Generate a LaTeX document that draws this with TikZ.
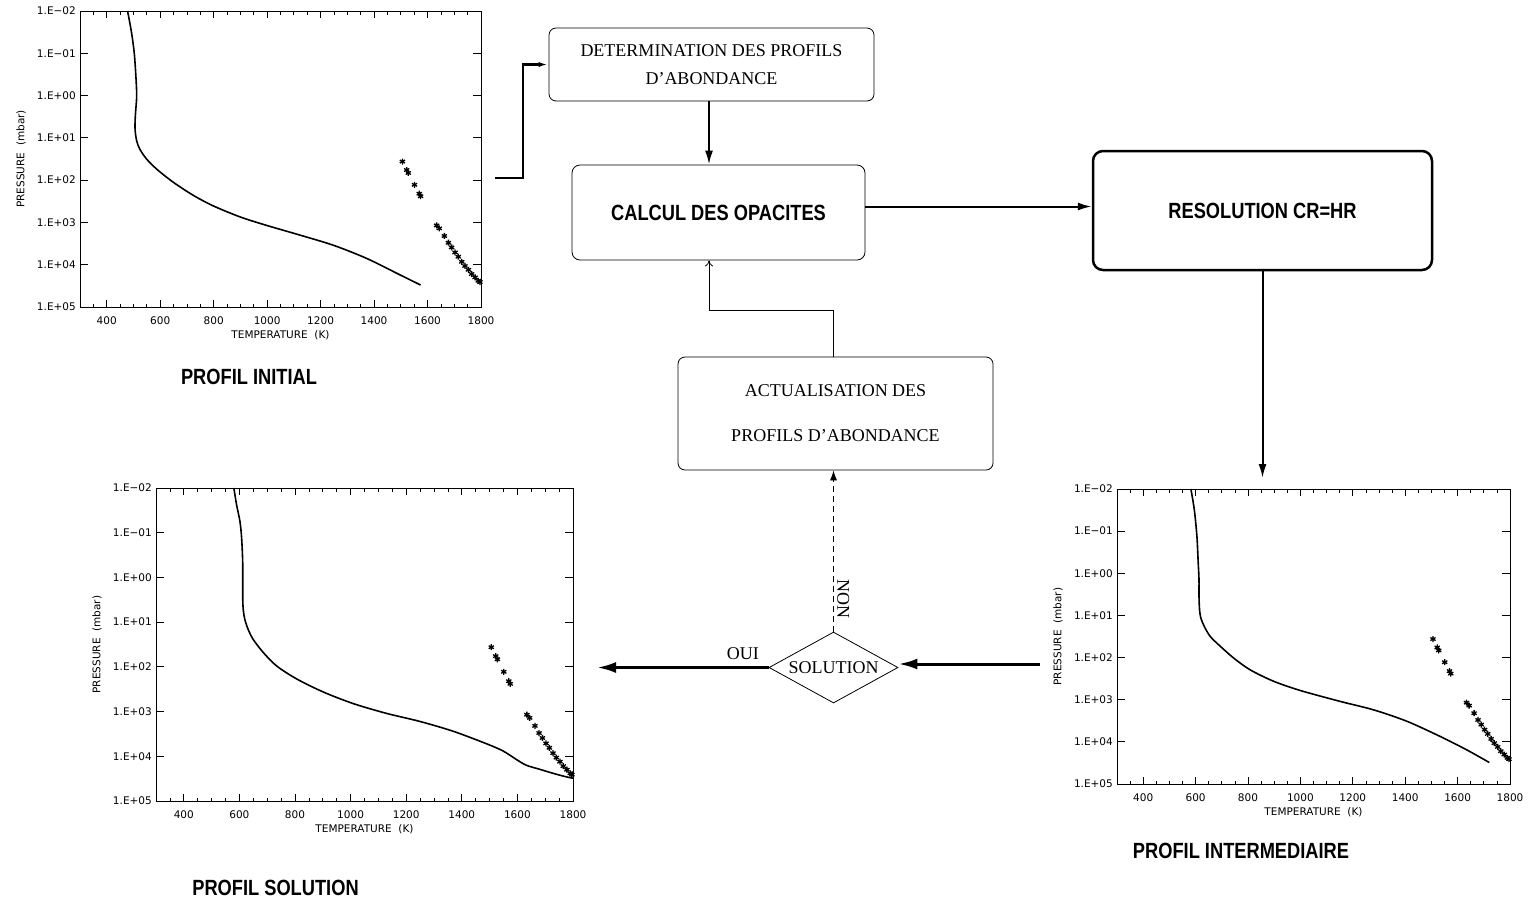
\documentclass[tikz,border=0pt]{standalone}
\usepackage{fontspec}
\setmainfont{Liberation Serif}
\newfontfamily\idlfont{DejaVu Sans}
\newfontfamily\narrowsans[FakeStretch=0.83]{Liberation Sans}
\usepackage{tikz}
\usetikzlibrary{shapes.geometric,arrows.meta,positioning,plotmarks}

% frame, ticks and titles of one T-P profile (data coordinates: T in K, log10 P)
\newcommand{\tpaxes}{%
  \draw[axisline] (300,-2) rectangle (1800,5);
  \foreach \t in {350,400,...,1750}
    {\draw[axisline] (\t,5) -- ++(0pt,3.5pt); \draw[axisline] (\t,-2) -- ++(0pt,-3.5pt);}
  \foreach \t in {400,600,...,1800}
    {\draw[axisline] (\t,5) -- ++(0pt,7pt); \draw[axisline] (\t,-2) -- ++(0pt,-7pt);
     \node[ticklab, below=8pt] (xlab\t) at (\t,5) {\t};}
  \foreach \p/\txt in {-2/1.E−02, -1/1.E−01, 0/1.E+00, 1/1.E+01, 2/1.E+02, 3/1.E+03, 4/1.E+04, 5/1.E+05}
    {\draw[axisline] (300,\p) -- ++(8pt,0pt); \draw[axisline] (1800,\p) -- ++(-8pt,0pt);
     \node[ticklab, left=3pt] (ylab\p) at (300,\p) {\txt};}
  \node[ticklab, below=22pt] (xtitle) at (1050,5) {TEMPERATURE\ \ (K)};
  \node[ticklab, rotate=90] (ytitle) at ([xshift=-59pt]300,1.5) {PRESSURE\ \ (mbar)};
}
% measured points, the same in every profile
\newcommand{\tpstars}{%
  \draw[starmark] plot[only marks, mark=asterisk] coordinates {(1506,1.56) (1522,1.76)
    (1528,1.83) (1551,2.11) (1569,2.32) (1574,2.38) (1634,3.07) (1644,3.14) (1663,3.32)
    (1678,3.48) (1690,3.59) (1703,3.71) (1715,3.81) (1728,3.93) (1740,4.03) (1753,4.12)
    (1765,4.22) (1778,4.30) (1790,4.38) (1796,4.41)};
}

\begin{document}
\begin{tikzpicture}[
    x=1pt, y=-1pt,
    flowbox/.style={draw, rounded corners=7pt, line width=0.8pt, inner sep=0pt, align=center,
        font=\fontsize{18}{28}\selectfont},
    boldbox/.style={draw, rounded corners=8pt, line width=0.8pt, inner sep=0pt,
        font=\narrowsans\bfseries\fontsize{22}{26}\selectfont},
    decision/.style={diamond, aspect=1.8, draw, line width=0.8pt, inner sep=0pt,
        minimum width=129pt, minimum height=71pt, font=\fontsize{18}{22}\selectfont},
    profiltitle/.style={font=\narrowsans\bfseries\fontsize{22}{26}\selectfont},
    serif/.style={font=\fontsize{18}{22}\selectfont},
    ticklab/.style={font=\idlfont\fontsize{10.5}{12}\selectfont, inner sep=1pt},
    axisline/.style={line width=0.8pt},
    curve/.style={line width=1.6pt, line join=round},
    starmark/.style={line width=1.3pt, mark size=3pt},
    tpplot/.style n args={4}{shift={(#1,#2)}, x={(#3pt,0pt)}, y={(0pt,-#4pt)}, shift={(-300,2)}},
    flow/.style={-{Latex[length=14pt,width=8pt]}, line width=2pt},
    heavy/.style={-{Latex[length=19pt,width=11pt]}, line width=3pt}
]
\useasboundingbox (0,0) rectangle (1528,906);

% profiles
\begin{scope}[tpplot={80}{11}{0.26733}{42.286}, name prefix=ini-]
  \tpaxes
  \draw[curve] plot[smooth] coordinates {(478,-2) (493,-1.48) (503,-1.0) (509,-0.46)
    (512,0.01) (507,0.48) (506,0.80) (512,1.07) (524,1.27) (549,1.50) (587,1.74) (649,2.05)
    (724,2.36) (799,2.61) (899,2.87) (998,3.07) (1123,3.30) (1248,3.54) (1372,3.85)
    (1497,4.24) (1574,4.48)};
  \tpstars
\end{scope}
\begin{scope}[tpplot={156}{488}{0.278}{44.714}, name prefix=sol-]
  \tpaxes
  \draw[curve] plot[smooth] coordinates {(580,-2) (590,-1.62) (602,-1.25) (608,-0.88)
    (612,-0.30) (612,0.44) (614,0.73) (620,0.95) (632,1.17) (650,1.39) (686,1.68) (734,1.98)
    (806,2.27) (901,2.56) (1009,2.82) (1129,3.04) (1249,3.22) (1369,3.44) (1489,3.72)
    (1548,3.88) (1596,4.07) (1632,4.20) (1680,4.29) (1728,4.38) (1776,4.46) (1800,4.49)};
  \tpstars
\end{scope}
\begin{scope}[tpplot={1117}{489}{0.262}{42.143}, name prefix=int-]
  \tpaxes
  \draw[curve] plot[smooth] coordinates {(582,-2) (595,-1.51) (605,-0.88) (610,-0.24)
    (613,0.15) (613,0.55) (615,0.86) (620,1.06) (633,1.26) (656,1.50) (694,1.73) (745,2.01)
    (808,2.29) (897,2.56) (999,2.78) (1152,3.04) (1279,3.24) (1406,3.51) (1533,3.87)
    (1635,4.19) (1721,4.49)};
  \tpstars
\end{scope}

\node[profiltitle] (tini) at (249,377) {PROFIL INITIAL};
\node[profiltitle] (tsol) at (275.5,888) {PROFIL SOLUTION};
\node[profiltitle] (tint) at (1241,851) {PROFIL INTERMEDIAIRE};

% flow chart
\node[flowbox, minimum width=325pt, minimum height=73pt] (det) at (711.5,64.5)
    {DETERMINATION DES PROFILS\\D'ABONDANCE};
\node[boldbox, minimum width=293pt, minimum height=95pt] (calc) at (718.5,212.5)
    {CALCUL DES OPACITES};
\node[boldbox, line width=2.5pt, rounded corners=10pt, minimum width=339pt,
    minimum height=119pt] (res) at (1262.5,210.5) {RESOLUTION CR=HR};
\node[flowbox, minimum width=315pt, minimum height=113pt] (act) at (835.5,413.5)
    {ACTUALISATION DES\\[17pt]PROFILS D'ABONDANCE};
\node[decision] (test) at (833.5,667.5) {SOLUTION};

\coordinate (p1out) at (495,178);
\coordinate (mid) at (709,310);
\coordinate (resout) at (1262.5,478);
\coordinate (p2out) at (1040,664);
\coordinate (ouiend) at (597,667.5);

\draw[line width=2.5pt, -{Latex[length=10pt,width=5pt]}] (p1out) -- ++(28,0) |- (det.west);
\draw[flow] (det.south -| mid) -- (calc.north -| mid);
\draw[flow] ([yshift=6pt]calc.east) -- ([yshift=6pt]calc.east -| res.west);
\draw[flow] (res.south) -- (resout);
\draw[heavy] (p2out) -- (p2out -| test.east);
\draw[heavy] (test.west) -- node[serif, pos=0.15, above=3pt] (oui) {OUI} (ouiend);
\draw[-{Latex[length=10pt,width=7pt]}, line width=0.8pt, dash pattern=on 6pt off 4pt]
    (test.north) -- node[serif, pos=0.2, rotate=-90, anchor=south] (non) {NON}
    (test.north |- act.south);
\draw[-{To[length=6pt,width=8pt]}, line width=0.8pt] ([xshift=-2.5pt]act.north) |- (mid)
    -- (calc.south -| mid);
\end{tikzpicture}
\end{document}
